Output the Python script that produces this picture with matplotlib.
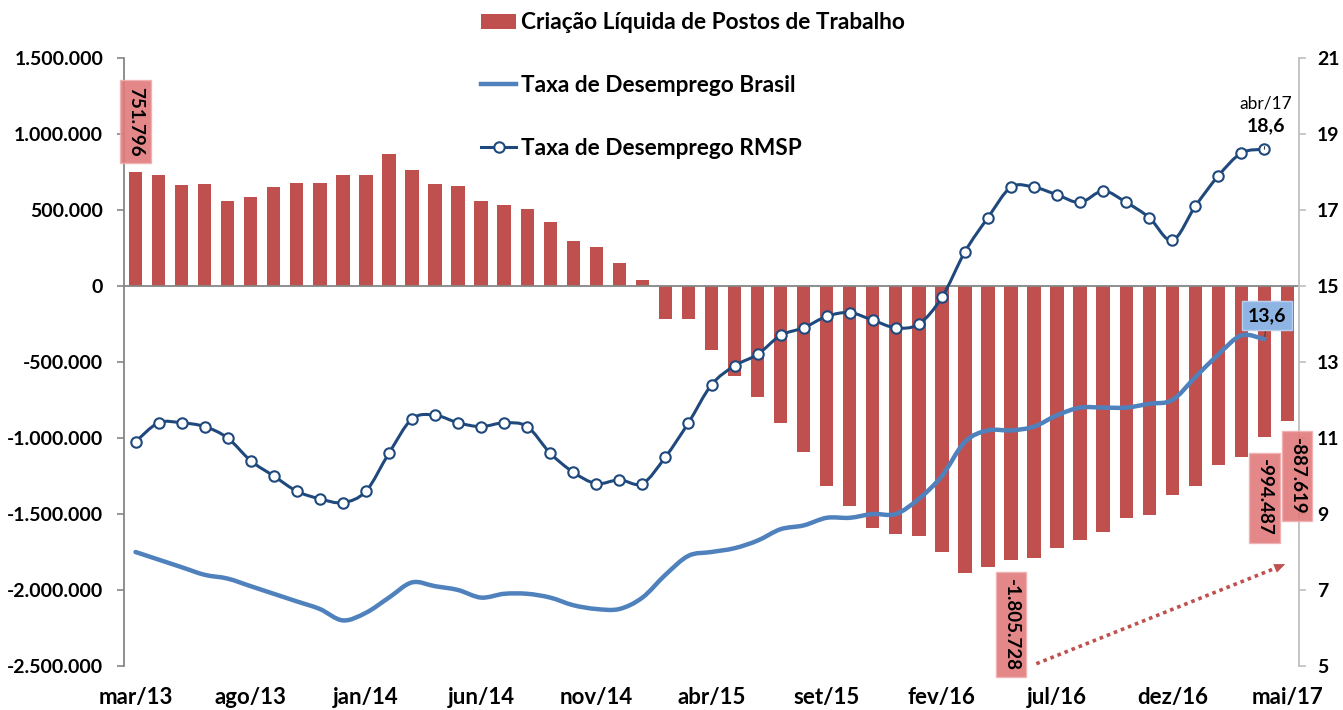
import matplotlib
matplotlib.use("Agg")
import matplotlib.pyplot as plt
from matplotlib.path import Path
from matplotlib.patches import PathPatch
from matplotlib.lines import Line2D
from matplotlib.patches import Patch
from matplotlib.ticker import FuncFormatter
import numpy as np

# net job creation (12-month accumulated), mar/13 .. mai/17
postos = [
    751796, 729000, 663000, 670000, 562000, 588000, 650000, 679000, 679000, 729000,
    729000, 867000, 766000, 674000, 661000, 562000, 534000, 507000, 424000, 296000,
    257000, 149000, 40000, -220000, -215000, -422000, -593000, -733000, -900000, -1089000,
    -1313000, -1449000, -1590000, -1629000, -1645000, -1750000, -1889000, -1851000, -1805728, -1790000,
    -1724000, -1673000, -1619000, -1524000, -1506000, -1372000, -1318000, -1179000, -1124000, -994487,
    -887619,
]

# unemployment rate Brasil (%), mar/13 .. abr/17
desemp_brasil = [
    8.0, 7.8, 7.6, 7.4, 7.3, 7.1, 6.9, 6.7, 6.5, 6.2,
    6.4, 6.8, 7.2, 7.1, 7.0, 6.8, 6.9, 6.9, 6.8, 6.6,
    6.5, 6.5, 6.8, 7.4, 7.9, 8.0, 8.1, 8.3, 8.6, 8.7,
    8.9, 8.9, 9.0, 9.0, 9.4, 10.0, 10.9, 11.2, 11.2, 11.3,
    11.6, 11.8, 11.8, 11.8, 11.9, 12.0, 12.6, 13.2, 13.7, 13.6,
]

# unemployment rate RMSP (%), mar/13 .. abr/17
desemp_rmsp = [
    10.9, 11.4, 11.4, 11.3, 11.0, 10.4, 10.0, 9.6, 9.4, 9.3,
    9.6, 10.6, 11.5, 11.6, 11.4, 11.3, 11.4, 11.3, 10.6, 10.1,
    9.8, 9.9, 9.8, 10.5, 11.4, 12.4, 12.9, 13.2, 13.7, 13.9,
    14.2, 14.3, 14.1, 13.9, 14.0, 14.7, 15.9, 16.8, 17.6, 17.6,
    17.4, 17.2, 17.5, 17.2, 16.8, 16.2, 17.1, 17.9, 18.5, 18.6,
]

tick_labels = ["mar/13", "ago/13", "jan/14", "jun/14", "nov/14", "abr/15",
               "set/15", "fev/16", "jul/16", "dez/16", "mai/17"]

RED = "#C0504D"
LBLUE = "#4F81BD"
DBLUE = "#1F497D"
FONT = "Lato"


def smooth_path(x, y):
    """Catmull-Rom style cubic Bezier through the points (Excel 'smoothed line')."""
    pts = np.column_stack([np.asarray(x, float), np.asarray(y, float)])
    verts = [pts[0]]
    codes = [Path.MOVETO]
    n = len(pts)
    for i in range(n - 1):
        p0 = pts[max(i - 1, 0)]
        p1 = pts[i]
        p2 = pts[i + 1]
        p3 = pts[min(i + 2, n - 1)]
        verts += [p1 + (p2 - p0) / 6.0, p2 - (p3 - p1) / 6.0, p2]
        codes += [Path.CURVE4] * 3
    return Path(verts, codes)


def fmt_br(v, pos=None):
    return f"{v:,.0f}".replace(",", ".")


plt.rcParams["font.family"] = [FONT, "DejaVu Sans"]

fig = plt.figure(figsize=(13.43, 7.10), dpi=100)
ax = fig.add_axes([124 / 1343, 44 / 710, (1299 - 124) / 1343, (666 - 58) / 710])
ax2 = ax.twinx()

xb = np.arange(len(postos))
ax.bar(xb, postos, width=0.58, color=RED, zorder=2)
ax.axhline(0, color="#868686", lw=1.3, zorder=3)

ax.set_xlim(-0.5, len(postos) - 0.5)
ax.set_ylim(-2500000, 1500000)
ax.set_yticks(np.arange(-2500000, 1500001, 500000))
ax.yaxis.set_major_formatter(FuncFormatter(fmt_br))
ax.set_xticks(xb[::5])
ax.set_xticklabels(tick_labels)
ax.tick_params(axis="x", length=0, pad=15, labelsize=16, width=0)
ax.tick_params(axis="y", length=5, width=1.2, color="#868686", labelsize=14, pad=10)
for lab in ax.get_xticklabels() + ax.get_yticklabels():
    lab.set_fontweight("bold")
for side in ["top", "bottom", "right"]:
    ax.spines[side].set_visible(False)
ax.spines["left"].set_color("#868686")
ax.spines["left"].set_linewidth(1.3)

# right axis: unemployment rates
xl = np.arange(len(desemp_brasil))
ax2.add_patch(PathPatch(smooth_path(xl, desemp_brasil), facecolor="none",
                        edgecolor=LBLUE, lw=3.2, capstyle="round", zorder=4))
ax2.add_patch(PathPatch(smooth_path(xl, desemp_rmsp), facecolor="none",
                        edgecolor=DBLUE, lw=2.2, zorder=5))
ax2.plot(xl, desemp_rmsp, ls="none", marker="o", ms=7.5, mfc="white", mec=DBLUE, mew=1.5, zorder=6)
ax2.set_ylim(5, 21)
ax2.set_yticks(np.arange(5, 22, 2))
ax2.tick_params(axis="y", length=5, width=1.2, color="#BFBFBF", labelsize=14, pad=8)
for lab in ax2.get_yticklabels():
    lab.set_fontweight("bold")
for side in ["top", "bottom", "left"]:
    ax2.spines[side].set_visible(False)
ax2.spines["right"].set_color("#BFBFBF")
ax2.spines["right"].set_linewidth(1.3)

# bar data labels (drawn on ax2 so they sit above the spines)
box = dict(boxstyle="square,pad=0.35", facecolor="#E07A7C", edgecolor="#F0B0B0", alpha=0.9, lw=1)
bar_labels = [(0, 5, 0), (38, -7, 0), (49, -10, 0), (50, -6, 7)]
for i, dy, dx in bar_labels:
    v = postos[i]
    ax2.annotate(fmt_br(v), xy=(i, v), xycoords=ax.transData,
                 xytext=(dx, dy + (6 if v > 0 else -6)), textcoords="offset points",
                 rotation=270, ha="center", va="bottom" if v > 0 else "top",
                 fontsize=13.5, fontweight="bold", bbox=box, zorder=7, annotation_clip=False)

# line data labels
ax2.annotate("18,6", xy=(49, desemp_rmsp[49]), xytext=(1, 17), textcoords="offset points",
             ha="center", va="center", fontsize=14, fontweight="bold",
             arrowprops=dict(arrowstyle="-", color="#404040", lw=0.8, shrinkA=7, shrinkB=4), zorder=8)
ax2.annotate("abr/17", xy=(49, desemp_rmsp[49]), xytext=(1, 33), textcoords="offset points",
             ha="center", va="center", fontsize=12.5, zorder=8)
ax2.annotate("13,6", xy=(49, desemp_brasil[49]), xytext=(2, 17), textcoords="offset points",
             ha="center", va="center", fontsize=14, fontweight="bold",
             bbox=dict(boxstyle="square,pad=0.3", facecolor="#8DB4E2", edgecolor="#B8D0EE", lw=1),
             arrowprops=dict(arrowstyle="-", color="#404040", lw=0.8, shrinkA=0, shrinkB=2), zorder=8)

# dotted trend arrow: dotted shaft + solid head
arrow_x = [39.1, 49.5]
arrow_y = [-2485000, -1855000]
ax.plot(arrow_x, arrow_y, color=RED, lw=2.6, ls=(0, (1, 1.1)), dash_capstyle="butt", zorder=7)
ax.annotate("", xy=(49.9, -1830000), xytext=(arrow_x[1], arrow_y[1]),
            arrowprops=dict(arrowstyle="-|>,head_length=0.7,head_width=0.3", color=RED,
                            lw=0.5, shrinkA=0, shrinkB=0), zorder=7)

handles = [
    Patch(facecolor=RED, edgecolor="none"),
    Line2D([], [], color=LBLUE, lw=3.2),
    Line2D([], [], color=DBLUE, lw=2.2, marker="o", ms=7.5, mfc="white", mec=DBLUE, mew=1.5),
]
labels = ["Criação Líquida de Postos de Trabalho", "Taxa de Desemprego Brasil", "Taxa de Desemprego RMSP"]
fig.legend(handles, labels, loc="upper left", bbox_to_anchor=(470 / 1343, 1 - 1 / 710),
           frameon=False, prop=dict(family=FONT, weight="bold", size=16.3),
           handlelength=1.55, handleheight=0.65, handletextpad=0.2, labelspacing=1.85, borderpad=0)

fig.savefig("out.png", dpi=100)
